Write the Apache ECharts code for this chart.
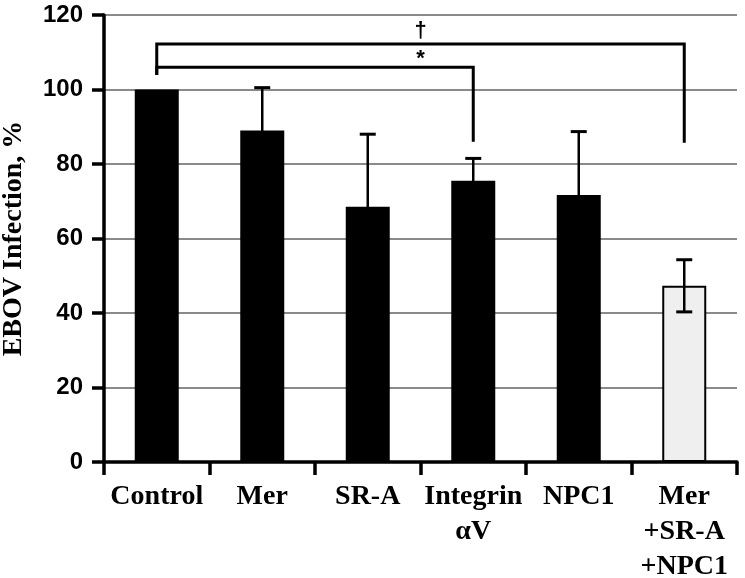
<!DOCTYPE html>
<html><head><meta charset="utf-8">
<script src="https://cdn.jsdelivr.net/npm/echarts@6/dist/echarts.min.js"></script>
<style>html,body{margin:0;padding:0;background:#fff}#c{width:745px;height:578px}</style>
</head><body><div id="c"></div>
<script>
const categories = ['Control', 'Mer', 'SR-A', 'Integrin\nαV', 'NPC1', 'Mer\n+SR-A\n+NPC1'];
const values = [100, 89, 68.5, 75.5, 71.7, 47.3];
const errors = [0, 11.5, 19.5, 6, 17, 7];
const yTicks = [0, 20, 40, 60, 80, 100, 120];
const bracketFrom = [0, 0];
const bracketTo = [5, 3];
const bracketLevel = [112.2, 106];
const bracketLeftEnd = [103.9, 103.9];
const bracketRightEnd = [85.7, 86];
const sigMarks = ['†', '*'];
const sigMarkY = [115.8, 108.2];
const sigMarkPos = [2.5, 2.5];

const chart = echarts.init(document.getElementById('c'), null, {renderer: 'canvas'});
const errData = values.map((v, i) => [i, v - errors[i], v + errors[i], errors[i]]).filter(d => d[3] > 0);
const bracketData = bracketFrom.map((f, i) => [f, bracketTo[i], bracketLevel[i], bracketLeftEnd[i], bracketRightEnd[i]]);
const sigData = sigMarks.map((m, i) => [sigMarkPos[i], sigMarkY[i], i]);

chart.setOption({
  animation: false,
  backgroundColor: '#fff',
  grid: {left: 104, right: 8, top: 15, bottom: 116, containLabel: false, outerBoundsMode: 'none'},
  xAxis: {
    type: 'category',
    data: categories,
    axisLine: {lineStyle: {color: '#000', width: 3.5}},
    axisTick: {show: true, length: 13, lineStyle: {color: '#000', width: 3.5}},
    axisLabel: {
      color: '#000', fontFamily: 'Liberation Serif', fontWeight: 'bold', fontSize: 28,
      lineHeight: 35, margin: 17, interval: 0
    },
    splitLine: {show: false}
  },
  yAxis: {
    type: 'value',
    min: yTicks[0], max: yTicks[yTicks.length - 1], interval: 20,
    name: 'EBOV Infection, %',
    nameLocation: 'middle',
    nameGap: 76,
    nameTextStyle: {color: '#000', fontFamily: 'Liberation Serif', fontWeight: 'bold', fontSize: 28},
    axisLine: {show: true, lineStyle: {color: '#000', width: 3.5}},
    axisTick: {show: true, length: 12, lineStyle: {color: '#000', width: 3.5}},
    axisLabel: {color: '#000', fontFamily: 'Liberation Sans', fontWeight: 'bold', fontSize: 24, margin: 21},
    splitLine: {show: true, lineStyle: {color: '#8a8a8a', width: 2}}
  },
  series: [
    {
      type: 'bar',
      barWidth: 44,
      data: values.map((v, i) => ({
        value: v,
        itemStyle: i === values.length - 1
          ? {color: '#efefef', borderColor: '#000', borderWidth: 2}
          : {color: '#000'}
      })),
      z: 2
    },
    {
      type: 'custom',
      data: errData,
      encode: {x: 0, y: [1, 2]},
      z: 5,
      renderItem: (params, api) => {
        const i = api.value(0);
        const p1 = api.coord([i, api.value(1)]);
        const p2 = api.coord([i, api.value(2)]);
        const w = 8;
        return {type: 'group', children: [
          {type: 'line', shape: {x1: p1[0], y1: p1[1], x2: p2[0], y2: p2[1]}, style: {stroke: '#000', lineWidth: 2.5}},
          {type: 'line', shape: {x1: p1[0] - w, y1: p1[1], x2: p1[0] + w, y2: p1[1]}, style: {stroke: '#000', lineWidth: 3}},
          {type: 'line', shape: {x1: p2[0] - w, y1: p2[1], x2: p2[0] + w, y2: p2[1]}, style: {stroke: '#000', lineWidth: 3}}
        ]};
      }
    },
    {
      type: 'custom',
      data: bracketData,
      encode: {x: [0, 1], y: [2, 3, 4]},
      z: 5,
      renderItem: (params, api) => {
        const f = api.value(0), t = api.value(1);
        const a = api.coord([f, api.value(3)]);
        const b = api.coord([f, api.value(2)]);
        const c = api.coord([t, api.value(2)]);
        const d = api.coord([t, api.value(4)]);
        return {type: 'polyline', shape: {points: [a, b, c, d]},
          style: {stroke: '#000', lineWidth: 3, fill: null, lineJoin: 'miter'}};
      }
    },
    {
      type: 'custom',
      data: sigData,
      encode: {x: 0, y: 1},
      z: 6,
      renderItem: (params, api) => {
        const pos = api.value(0);
        const base = Math.floor(pos);
        const p = api.coord([base, api.value(1)]);
        const band = api.size([1, 0])[0];
        return {type: 'text', x: p[0] + (pos - base) * band, y: p[1],
          style: {text: sigMarks[api.value(2)], fill: '#000', font: 'bold 22px "Liberation Sans"', align: 'center', verticalAlign: 'middle'}};
      }
    }
  ]
});
</script></body></html>
